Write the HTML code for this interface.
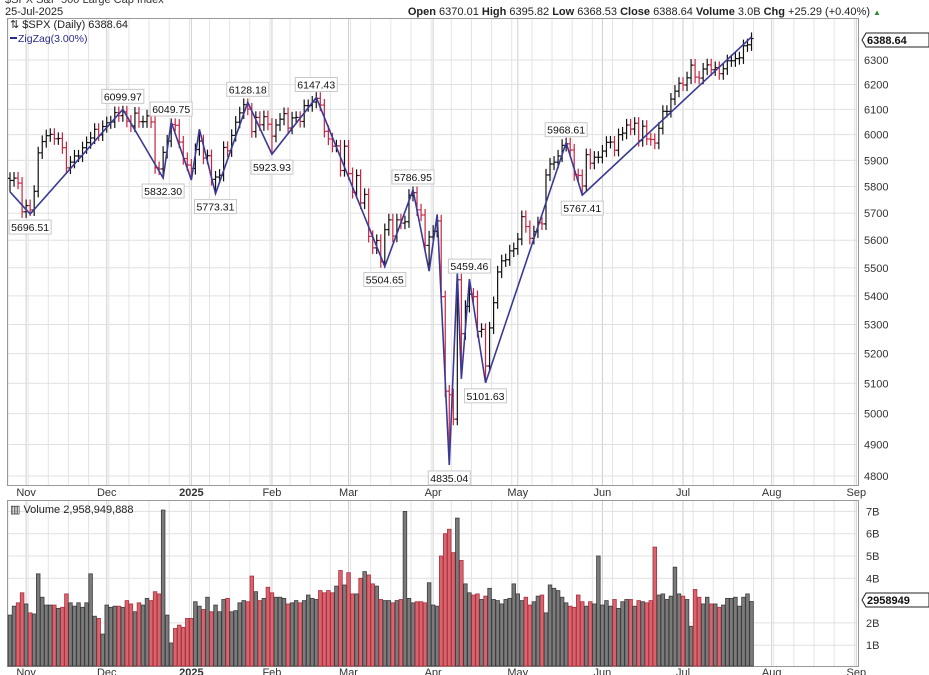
<!DOCTYPE html>
<html><head><meta charset="utf-8">
<style>
html,body{margin:0;padding:0;background:#fff;}
svg{display:block;font-family:"Liberation Sans",sans-serif;}
</style></head>
<body>
<svg id="chart" width="929" height="675" viewBox="0 0 929 675" xmlns="http://www.w3.org/2000/svg">
<rect x="0" y="0" width="929" height="675" fill="#fff"/>
<text x="5" y="3" font-size="11" fill="#333">$SPX S&amp;P 500 Large Cap Index</text>
<text x="5" y="15" font-size="11" fill="#222">25-Jul-2025</text>
<text x="870" y="15" font-size="11" fill="#222" text-anchor="end"><tspan font-weight="bold">Open</tspan> 6370.01 <tspan font-weight="bold">High</tspan> 6395.82 <tspan font-weight="bold">Low</tspan> 6368.53 <tspan font-weight="bold">Close</tspan> 6388.64 <tspan font-weight="bold">Volume</tspan> 3.0B <tspan font-weight="bold">Chg</tspan> +25.29 (+0.40%)</text>
<text x="877" y="15" font-size="8" fill="#2a8a2a" text-anchor="middle">▲</text>
<g id="grid"></g>
<rect x="7.5" y="18.5" width="851" height="467" fill="none" stroke="#999"/>
<rect x="7.5" y="500.5" width="851" height="166" fill="none" stroke="#999"/>
<g id="vol"></g>
<g id="bars"></g>
<g id="zz"></g>
<g id="axes"></g>
<text x="10" y="28" font-size="11" fill="#222">⇅ $SPX (Daily) 6388.64</text>
<line x1="10" y1="38" x2="17" y2="38" stroke="#2b2b8c" stroke-width="2"/>
<text x="18" y="42" font-size="10.5" fill="#2b2b8c">ZigZag(3.00%)</text>
<text x="10" y="513" font-size="11" fill="#222">▥ Volume 2,958,949,888</text>
</svg>
<script>
const closes=[5823,5832,5813,5705,
5728,5712,5782,5929,5973,5996,6001,5984,5985,5949,5871,5893,5917,5917,5949,5969,5987,6021,5999,6032,
6047,6050,6087,6075,6090,6053,6034,6085,6051,6051,6074,6050,5872,5867,5931,5975,6040,6037,5971,5907,5882,
5869,5942,5975,5909,5918,5827,5836,5843,5950,5937,5997,6049,6086,6119,6101,6012,6068,6039,6071,6041,
5994,6038,6061,6083,6026,6066,6068,6052,6115,6115,6129,6144,6117,6013,5983,5955,5956,5861,5955,
5849,5778,5842,5738,5770,5614,5572,5599,5522,5639,5675,5615,5675,5663,5668,5767,5777,5712,5693,5581,5612,
5633,5671,5397,5074,5062,4982,5457,5268,5363,5406,5397,5276,5283,5158,5288,5376,5485,5525,5529,5561,5569,
5604,5687,5650,5607,5631,5664,5660,5844,5886,5893,5917,5958,5964,5940,5845,5842,5802,5922,5889,5912,5912,
5936,5970,5971,5939,6000,6006,6038,6022,6045,5977,6033,5983,5981,5967,6025,6092,6092,6141,6173,6205,
6198,6227,6279,6230,6226,6263,6280,6260,6269,6244,6264,6297,6297,6306,6309,6359,6363,6389];
const volumes=[2.35,2.75,2.9,3.35,
2.85,2.45,2.4,4.2,3.15,2.8,2.8,2.8,2.65,2.7,3.3,2.9,2.75,2.9,2.7,2.9,4.2,2.3,2.2,1.5,
2.8,2.7,2.75,2.75,2.7,3.0,2.85,2.5,2.9,2.8,3.1,3.0,3.4,3.3,7.06,2.35,1.1,1.75,1.9,1.8,2.2,
2.2,2.95,2.75,2.6,3.15,2.5,2.8,2.5,3.05,3.1,2.5,2.55,2.9,3.0,2.95,4.1,3.4,3.0,3.1,3.6,
3.35,3.15,3.15,3.1,2.85,2.9,3.0,2.9,3.0,3.25,3.1,3.05,3.45,3.35,3.45,3.35,3.65,4.35,3.7,
4.25,3.3,3.3,4.0,4.3,4.15,3.75,3.65,3.05,3.0,3.0,2.9,3.0,3.05,7.0,3.1,2.9,2.95,2.95,2.9,3.8,
2.8,2.75,5.0,6.0,6.2,5.15,6.7,4.8,3.75,3.35,3.25,3.3,3.05,3.2,3.55,3.05,3.0,2.85,3.05,3.1,3.75,
3.3,3.0,3.15,2.8,2.95,3.2,3.25,2.45,3.7,3.55,3.45,3.15,2.9,2.75,2.7,3.25,2.95,2.75,2.95,2.85,5.0,
2.8,3.0,2.75,3.05,2.65,2.95,3.05,3.05,2.75,3.0,2.95,2.9,3.0,5.4,3.25,3.3,3.05,3.2,4.5,3.3,
3.2,3.05,1.85,3.5,3.15,2.85,3.15,2.85,2.85,2.7,2.8,3.1,3.1,3.15,2.75,3.15,3.3,2.96];
const pivotIdx=[0,5,28,38,40,45,47,51,59,65,76,93,100,104,106,109,111,112,114,118,138,142,184];
const pivotVal=[5780,5696.51,6099.97,5832.30,6049.75,5825,6021,5773.31,6128.18,5923.93,6147.43,5504.65,5786.95,5488,5695,4835.04,5481,5115,5459.46,5101.63,5968.61,5767.41,6395.82];
const pivotLabeled=[0,1,1,1,1,0,0,1,1,1,1,1,1,0,0,1,0,0,1,1,1,1,0];
const priceTicks=[6300,6200,6100,6000,5900,5800,5700,5600,5500,5400,5300,5200,5100,5000,4900,4800];
const volTicks=[7,6,5,4,2,1];
const monthLabels=["Nov","Dec","2025","Feb","Mar","Apr","May","Jun","Jul","Aug","Sep"];
const monthIdx=[4,24,45,65,84,105,126,147,167,189,210];

const NS="http://www.w3.org/2000/svg";
const X=i=>10+i*4.03;
const YP=p=>60+1530*Math.log(6300/p);
const YV=v=>Math.min(666,667.5-v*22.3);
function mk(tag,attrs,parent){const e=document.createElementNS(NS,tag);for(const k in attrs)e.setAttribute(k,attrs[k]);parent.appendChild(e);return e;}
const grid=document.getElementById('grid'),axes=document.getElementById('axes');
// weekly grid
for(let i=0;i<=214;i+=5){
  const x=X(i)-2;
  if(x<8||x>857)continue;
  const l1=mk('line',{x1:x,y1:19,x2:x,y2:485,stroke:'#e4e4e4'},grid);
  
  
  const l2=mk('line',{x1:x,y1:501,x2:x,y2:666,stroke:'#e4e4e4'},grid);
  
  
}
monthIdx.forEach((mi,k)=>{
  const x=X(mi);
  const g=mk('line',{x1:x,y1:19,x2:x,y2:485,stroke:'#cfcfcf'},grid);
  
  
  mk('line',{x1:x,y1:501,x2:x,y2:666,stroke:'#cfcfcf'},grid);
  [496,676].forEach(y=>{
    const t=mk('text',{x:x,y:y,'font-size':11,fill:'#333','text-anchor':'middle','font-weight':monthLabels[k]==='2025'?'bold':'normal'},axes);
    t.textContent=monthLabels[k];
    
    
  });
});
priceTicks.forEach(p=>{
  const y=YP(p);
  mk('line',{x1:8,y1:y,x2:858,y2:y,stroke:'#e0e0e0'},grid);
  const t=mk('text',{x:864,y:y+4,'font-size':11,fill:'#333'},axes);
  t.textContent=p;
  
  
});
volTicks.forEach(v=>{
  const y=667.5-v*22.3;
  mk('line',{x1:8,y1:y,x2:858,y2:y,stroke:'#e0e0e0'},grid);
  const t=mk('text',{x:866,y:y+4,'font-size':11,fill:'#333'},axes);
  t.textContent=v+'B';
  
  
});
// current value tags
function tag(y,txt,name){
  const g=mk('g',{},axes);
  
  
  mk('path',{d:`M862 ${y} L866 ${y-7} H929 V${y+7} H866 Z`,fill:'#fff',stroke:'#222'},g);
  const t=mk('text',{x:867,y:y+4,'font-size':11,'font-weight':'bold',fill:'#111'},g);
  t.textContent=txt;
}
tag(40,'6388.64','last-price-tag');
tag(600,'2958949','last-volume-tag');
// volume
const vg=document.getElementById('vol');
volumes.forEach((v,i)=>{
  const down=i>0&&closes[i]<closes[i-1];
  const y=YV(v);
  const r=mk('rect',{x:X(i)-1.8,y:y,width:3.6,height:666-y,fill:down?'#d9646e':'#7b7b7b',stroke:down?'#a8303e':'#3c3c3c','stroke-width':0.8},vg);
  
  
});
// price bars
const bg=document.getElementById('bars');
closes.forEach((c,i)=>{
  const o=i>0?closes[i-1]:c+8;
  let hi=Math.max(o,c)*1.004,lo=Math.min(o,c)*0.996;
  const pk=pivotIdx.indexOf(i);
  if(pk>=0){if(pivotVal[pk]>c)hi=Math.max(hi,pivotVal[pk]);else lo=Math.min(lo,pivotVal[pk]);}
  const down=i>0&&c<closes[i-1];
  const col=down?'#c8243f':'#111';
  const x=X(i);
  const g=mk('g',{stroke:col,'stroke-width':1.2},bg);
  
  
  mk('line',{x1:x,y1:YP(hi),x2:x,y2:YP(lo)},g);
  mk('line',{x1:x-2,y1:YP(o),x2:x,y2:YP(o)},g);
  mk('line',{x1:x,y1:YP(c),x2:x+2,y2:YP(c)},g);
});
// zigzag
const zg=document.getElementById('zz');
const pts=pivotIdx.map((pi,k)=>X(pi)+','+YP(pivotVal[k])).join(' ');
const pl=mk('polyline',{points:pts,fill:'none',stroke:'#3a3a96','stroke-width':1.6},zg);


pivotIdx.forEach((pi,k)=>{
  if(!pivotLabeled[k])return;
  const x=X(pi),y=YP(pivotVal[k]);
  const prev=k>0?pivotVal[k-1]:pivotVal[k+1];
  const isHigh=pivotVal[k]>prev;
  const by=isHigh?y-20:y+6;
  const g=mk('g',{},zg);
  
  
  mk('rect',{x:x-21,y:by,width:42,height:14,fill:'#fff',stroke:'#c8c8c8'},g);
  const t=mk('text',{x:x,y:by+11,'font-size':10.5,fill:'#111','text-anchor':'middle'},g);
  t.textContent=pivotVal[k].toFixed(2);
});
</script>
</body></html>
